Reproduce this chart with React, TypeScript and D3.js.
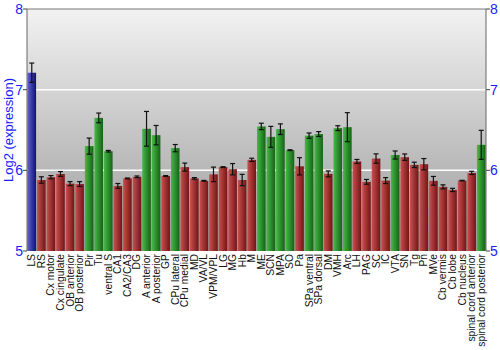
import * as React from "react";
import * as d3 from "d3";

const regions = [
  "LS", "RS", "Cx motor", "Cx cingulate", "OB anterior", "OB posterior", "Pir", "Tu",
  "ventral S", "CA1", "CA2/CA3", "DG", "A anterior", "A posterior", "GP", "CPu lateral",
  "CPu medial", "MD", "VA/VL", "VPM/VPL", "LG", "MG", "Hb", "M", "ME", "SCN", "MPA", "SO",
  "Pa", "SPa ventral", "SPa dorsal", "DM", "VMH", "Arc", "LH", "PAG", "SC", "IC", "VTA",
  "SN", "Tg", "Pn", "MVe", "Cb vermis", "Cb lobe", "Cb nucleus", "spinal cord anterior",
  "spinal cord posterior",
];

const values = [
  7.21, 5.88, 5.915, 5.955, 5.835, 5.83, 6.30, 6.65,
  6.237, 5.807, 5.90, 5.92, 6.515, 6.436, 5.93, 6.275,
  6.04, 5.90, 5.87, 5.95, 6.04, 6.014, 5.88, 6.13, 6.544, 6.415, 6.51, 6.25,
  6.05, 6.43, 6.45, 5.956, 6.523, 6.535, 6.11, 5.857, 6.146, 5.873, 6.19,
  6.163, 6.068, 6.076, 5.87, 5.795, 5.757, 5.873, 5.968,
  6.316,
];

const errors = [
  0.12, 0.04, 0.02, 0.03, 0.025, 0.03, 0.10, 0.06,
  0.01, 0.03, 0.005, 0.01, 0.215, 0.12, 0.005, 0.045,
  0.05, 0.01, 0.005, 0.09, 0.005, 0.07, 0.07, 0.02, 0.04, 0.13, 0.066, 0.005,
  0.107, 0.033, 0.03, 0.037, 0.03, 0.18, 0.025, 0.03, 0.058, 0.037, 0.05,
  0.04, 0.033, 0.07, 0.054, 0.025, 0.02, 0.003, 0.02,
  0.18,
];

// b = selected, g = high, r = low
const groups = [
  "b", "r", "r", "r", "r", "r", "g", "g",
  "g", "r", "r", "r", "g", "g", "r", "g",
  "r", "r", "r", "r", "r", "r", "r", "r", "g", "g", "g", "g",
  "r", "g", "g", "r", "g", "g", "r", "r", "r", "r", "g",
  "r", "r", "r", "r", "r", "r", "r", "r",
  "g",
];

const yTicks = [5, 6, 7, 8];

export default function App() {
  const W = 500, H = 350;
  const margin = { top: 9, right: 14, bottom: 99, left: 27 };
  const iw = W - margin.left - margin.right;
  const ih = H - margin.top - margin.bottom;

  const x = d3.scaleBand().domain(regions).range([0, iw]).paddingInner(0.1).paddingOuter(0.05);
  const y = d3.scaleLinear().domain([5, 8]).range([ih, 0]);

  const grads: any = {
    b: ["#6060d0", "#101078"],
    r: ["#c85050", "#741414"],
    g: ["#48b848", "#146414"],
  };

  const font = "Liberation Sans, Arial, sans-serif";

  return (
    <svg width={W} height={H} style={{ position: "absolute", left: 0, top: 0 }}>
      <defs>
        <linearGradient id="bg" x1="0" y1="0" x2="0" y2="1">
          <stop offset="0" stopColor="#f2f2f2" />
          <stop offset="1" stopColor="#9a9a9a" />
        </linearGradient>
        {Object.keys(grads).map((k) => (
          <linearGradient key={k} id={"bar-" + k} x1="0" y1="0" x2="1" y2="0">
            <stop offset="0" stopColor={grads[k][0]} />
            <stop offset="1" stopColor={grads[k][1]} />
          </linearGradient>
        ))}
      </defs>
      <g transform={`translate(${margin.left},${margin.top})`}>
        <rect width={iw} height={ih} fill="url(#bg)" />
        {[6, 7].map((t) => (
          <line key={t} x1={0} x2={iw} y1={y(t)} y2={y(t)} stroke="#fff" strokeWidth={1.5} />
        ))}
        {regions.map((r, i) => {
          const bx = x(r) as number;
          const bw = x.bandwidth();
          const cx = bx + bw / 2;
          const v = values[i], e = errors[i];
          return (
            <g key={r}>
              <rect x={bx} y={y(v)} width={bw} height={ih - y(v)} fill={`url(#bar-${groups[i]})`} />
              <line x1={cx} x2={cx} y1={y(v + e)} y2={y(v - e)} stroke="#111" strokeWidth={1.2} />
              <line x1={cx - 2.5} x2={cx + 2.5} y1={y(v + e)} y2={y(v + e)} stroke="#111" strokeWidth={1.2} />
              <line x1={cx - 2.5} x2={cx + 2.5} y1={y(v - e)} y2={y(v - e)} stroke="#111" strokeWidth={1.2} />
              <text
                transform={`translate(${cx + 3.5},${ih + 3}) rotate(-90)`}
                textAnchor="end"
                fontFamily={font}
                fontSize={10.3}
                fill="#111"
              >
                {r}
              </text>
            </g>
          );
        })}
        <line x1={0} x2={0} y1={0} y2={ih} stroke="#666" strokeWidth={1} />
        <line x1={iw} x2={iw} y1={0} y2={ih} stroke="#666" strokeWidth={1} />
        <line x1={0} x2={iw} y1={0} y2={0} stroke="#777" strokeWidth={1} />
        {yTicks.map((t) => (
          <g key={t}>
            <line x1={-4} x2={0} y1={y(t)} y2={y(t)} stroke="#444" />
            <line x1={iw} x2={iw + 4} y1={y(t)} y2={y(t)} stroke="#444" />
            <text x={-4} y={y(t)} dy="0.35em" textAnchor="end" fontFamily={font} fontSize={14} fill="#1a1aff">
              {t}
            </text>
            <text x={iw + 4} y={y(t)} dy="0.35em" textAnchor="start" fontFamily={font} fontSize={14} fill="#1a1aff">
              {t}
            </text>
          </g>
        ))}
        <text
          transform={`translate(${-14},${ih / 2}) rotate(-90)`}
          textAnchor="middle"
          fontFamily={font}
          fontSize={13}
          fill="#1a1aff"
        >
          Log2 (expression)
        </text>
      </g>
    </svg>
  );
}
